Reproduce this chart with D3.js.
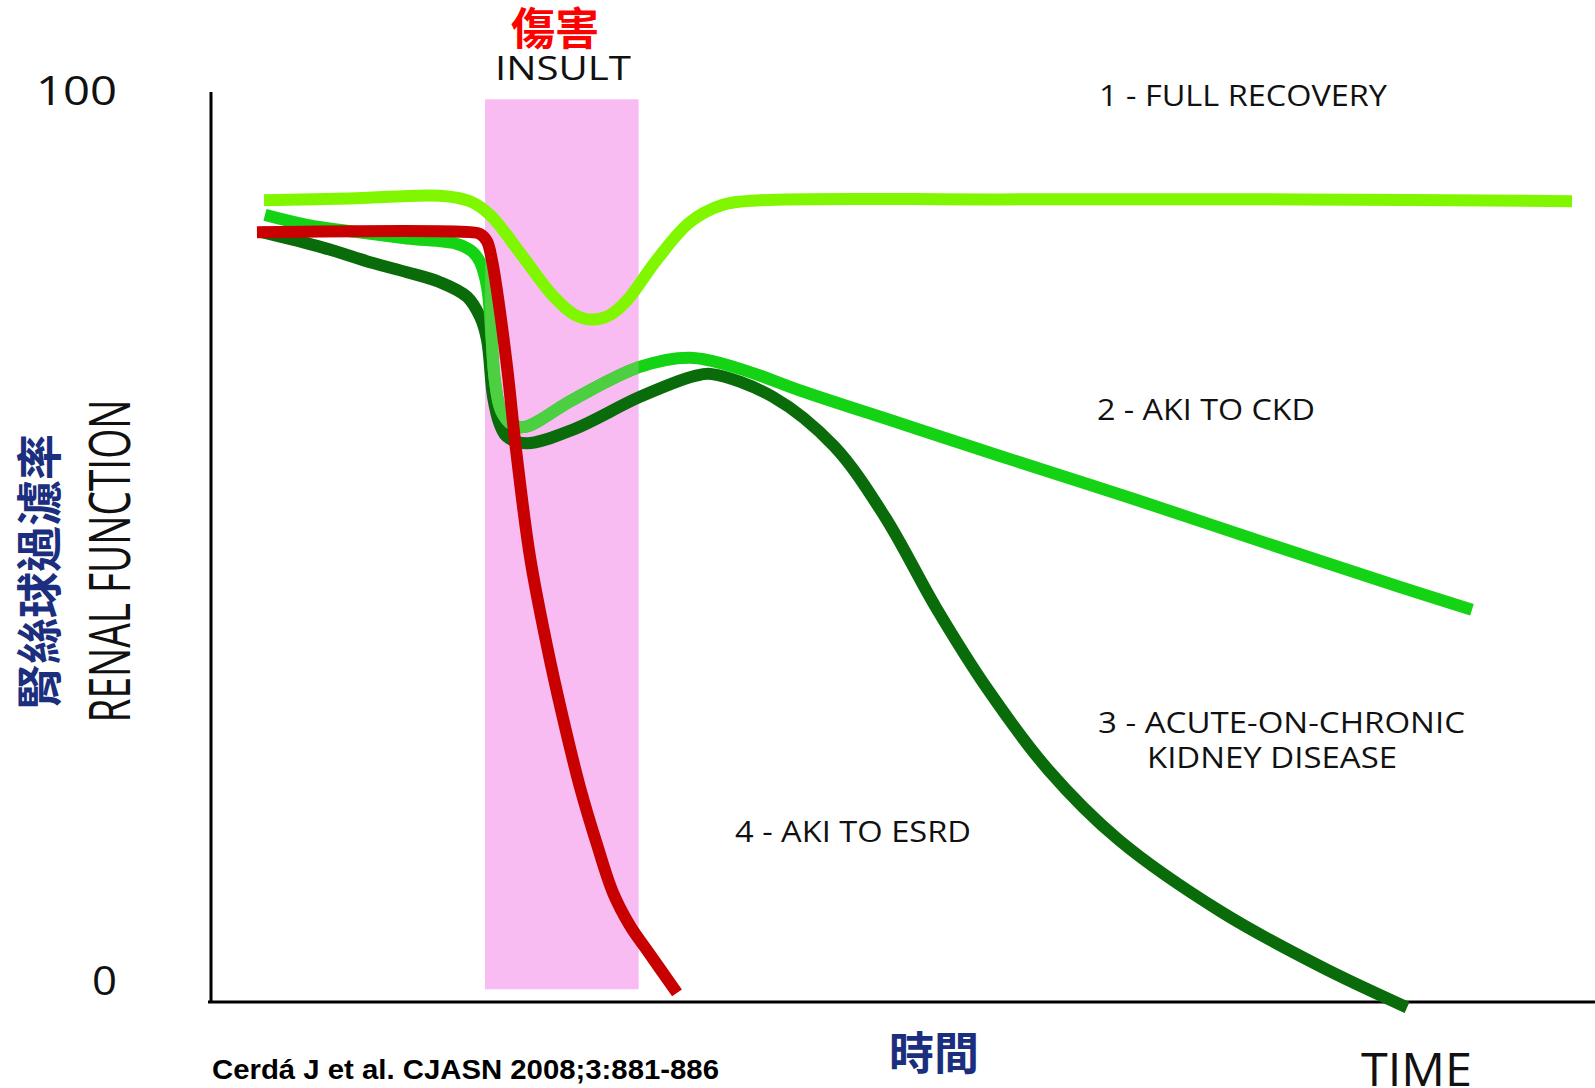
<!DOCTYPE html>
<html>
<head>
<meta charset="utf-8">
<script src="https://cdn.jsdelivr.net/npm/d3@7/dist/d3.min.js"></script>
<style>
  html, body { margin: 0; padding: 0; background: #ffffff; }
  svg { display: block; }
</style>
</head>
<body>
<svg id="chart" width="1595" height="1088"></svg>
<script>
// Renal function (0–100) over time (arbitrary units 0–100) for four AKI outcomes.
const yTickValues = [0, 100];
const yTickLabels = ["0", "100"];

// Insult window on the time axis and its vertical extent in function units
const insultSpan = [19.8, 30.9];
const insultExtent = [1.4, 99.2];

// 1 - full recovery
const fullRecovery = [
  [3.83, 88.1], [10.0, 88.3], [16.55, 88.6], [18.71, 88.0], [20.16, 86.5],
  [22.54, 81.9], [24.71, 77.6], [26.30, 75.5], [27.60, 75.0], [28.83, 75.5],
  [30.06, 77.1], [32.23, 81.6], [34.61, 85.7], [36.99, 87.6], [39.67, 88.1],
  [57.01, 88.2], [78.68, 88.2], [98.34, 88.0]
];

// 2 - AKI to CKD
const akiToCkd = [
  [3.90, 86.5], [6.94, 85.4], [10.55, 84.6], [14.16, 83.9], [17.77, 83.3],
  [18.93, 82.4], [19.44, 81.3], [19.94, 78.6], [20.23, 73.9], [20.50, 68.4],
  [20.95, 65.0], [21.70, 63.5], [22.69, 63.2], [26.16, 66.2], [31.00, 69.8],
  [34.61, 70.8], [38.20, 69.6], [42.56, 67.2], [49.78, 63.6], [57.01, 60.0],
  [66.62, 55.3], [76.30, 50.4], [85.91, 45.6], [91.11, 43.1]
];

// 3 - acute-on-chronic kidney disease
const acuteOnChronic = [
  [3.68, 84.6], [8.09, 82.9], [11.71, 81.2], [14.16, 80.2], [16.55, 79.1],
  [18.50, 77.5], [19.44, 75.3], [19.94, 72.8], [20.38, 66.5], [20.88, 63.4],
  [21.39, 62.1], [22.83, 61.4], [26.16, 62.9], [31.00, 66.5], [34.97, 68.8],
  [36.20, 69.0], [40.60, 66.5], [45.00, 61.1], [48.70, 53.3], [52.40, 43.3],
  [56.10, 34.4], [60.50, 25.5], [65.60, 17.8], [73.00, 9.9], [80.30, 3.8],
  [86.42, -0.6]
];

// 4 - AKI to ESRD
const akiToEsrd = [
  [3.32, 84.6], [18.71, 84.6], [19.44, 84.4], [19.94, 83.6], [20.30, 81.5],
  [20.66, 78.2], [21.39, 69.8], [22.04, 60.7], [23.05, 48.9], [24.28, 39.1],
  [25.43, 31.2], [26.66, 23.6], [27.89, 17.3], [29.05, 12.0], [30.27, 8.4],
  [31.50, 5.7], [33.67, 1.0]
];

const svg = d3.select("#chart");
const W = 1595;

const x = d3.scaleLinear().domain([0, 100]).range([211, 1595]);
const y = d3.scaleLinear().domain([0, 100]).range([1002, 92]);

// Insult band
svg.append("rect")
  .attr("x", x(insultSpan[0]))
  .attr("y", y(insultExtent[1]))
  .attr("width", x(insultSpan[1]) - x(insultSpan[0]))
  .attr("height", y(insultExtent[0]) - y(insultExtent[1]))
  .attr("fill", "#f8bcf2");

// Axes
svg.append("line")
  .attr("x1", x(0)).attr("x2", x(0))
  .attr("y1", y(100)).attr("y2", y(0) + 1)
  .attr("stroke", "#000").attr("stroke-width", 3);
svg.append("line")
  .attr("x1", x(0) - 3).attr("x2", W)
  .attr("y1", y(0)).attr("y2", y(0))
  .attr("stroke", "#000").attr("stroke-width", 3);

// Y tick labels
svg.selectAll("text.ytick")
  .data(yTickValues)
  .enter().append("text")
  .attr("class", "ytick")
  .attr("x", 117)
  .attr("y", v => y(v) + (v === 0 ? -7 : 13))
  .attr("text-anchor", "end")
  .attr("font-family", "'Open Sans', sans-serif")
  .attr("font-size", 40)
  .attr("fill", "#111")
  .attr("textLength", (v, i) => yTickLabels[i].length === 1 ? 25 : 81)
  .attr("lengthAdjust", "spacingAndGlyphs")
  .text((v, i) => yTickLabels[i]);

// Curves
const line = d3.line()
  .x(d => x(d[0]))
  .y(d => y(d[1]))
  .curve(d3.curveCatmullRom.alpha(0.5));

const series = [
  { data: acuteOnChronic, color: "#096b09" },
  { data: akiToCkd, color: "#14d214" },
  { data: fullRecovery, color: "#80f700" },
  { data: akiToEsrd, color: "#c80000" }
];

const defs = svg.append("defs");
defs.append("clipPath").attr("id", "insultClip")
  .append("rect")
  .attr("x", x(insultSpan[0]))
  .attr("y", 0)
  .attr("width", x(insultSpan[1]) - x(insultSpan[0]))
  .attr("height", 1088);

series.forEach(s => {
  svg.append("path")
    .datum(s.data)
    .attr("d", line)
    .attr("fill", "none")
    .attr("stroke", s.color)
    .attr("stroke-width", 12)
    .attr("stroke-linejoin", "round")
    .attr("stroke-linecap", "butt");
  // AKI-to-CKD is drawn in a paler green while it crosses the insult window
  if (s.data === akiToCkd) {
    svg.append("path")
      .datum(s.data)
      .attr("d", line)
      .attr("clip-path", "url(#insultClip)")
      .attr("fill", "none")
      .attr("stroke", "#4ccf40")
      .attr("stroke-width", 12)
      .attr("stroke-linejoin", "round");
  }
});

// Annotations
const sans = "'Open Sans', 'DejaVu Sans', sans-serif";
function label(txt, px, py, size, opts = {}) {
  const t = svg.append("text")
    .attr("x", px).attr("y", py)
    .attr("font-family", opts.family || sans)
    .attr("font-size", size)
    .attr("font-weight", opts.weight || "normal")
    .attr("fill", opts.fill || "#111")
    .attr("text-anchor", opts.anchor || "start")
    .text(txt);
  if (opts.length) t.attr("textLength", opts.length).attr("lengthAdjust", "spacingAndGlyphs");
  if (opts.transform) t.attr("transform", opts.transform);
  if (opts.baseline) t.attr("dominant-baseline", opts.baseline);
  return t;
}

const cjk = "'Noto Sans CJK TC', 'Noto Sans CJK SC', sans-serif";

label("傷害", 555, 45, 44, { family: cjk, weight: "bold", fill: "#ff0000", anchor: "middle" });
label("INSULT", 563, 80, 32, { anchor: "middle", length: 136 });

label("1 - FULL RECOVERY", 1099, 106, 29, { length: 288 });
label("2 - AKI TO CKD", 1097, 420, 29, { length: 218 });
label("3 - ACUTE-ON-CHRONIC", 1098, 733, 29, { length: 367 });
label("KIDNEY DISEASE", 1147, 768, 29, { length: 250 });
label("4 - AKI TO ESRD", 735, 842, 29, { length: 236 });

label("RENAL FUNCTION", 0, 0, 56, {
  anchor: "middle", length: 323,
  transform: "translate(130,561) rotate(-90)"
});
label("腎絲球過濾率", 0, 0, 46, {
  family: cjk, weight: "bold", fill: "#1b2f7e", anchor: "middle", baseline: "central",
  transform: "translate(36,572) rotate(-90)"
});

label("時間", 934, 1050, 45, { family: cjk, weight: "bold", fill: "#1b2f7e", anchor: "middle", baseline: "central" });
label("TIME", 1361, 1086, 45, { length: 111 });

label("Cerdá J et al. CJASN 2008;3:881-886", 212, 1079, 27, {
  family: "'Liberation Sans Narrow', 'Liberation Sans', Arial, sans-serif",
  weight: "bold", fill: "#000", length: 507
});
</script>
</body>
</html>
